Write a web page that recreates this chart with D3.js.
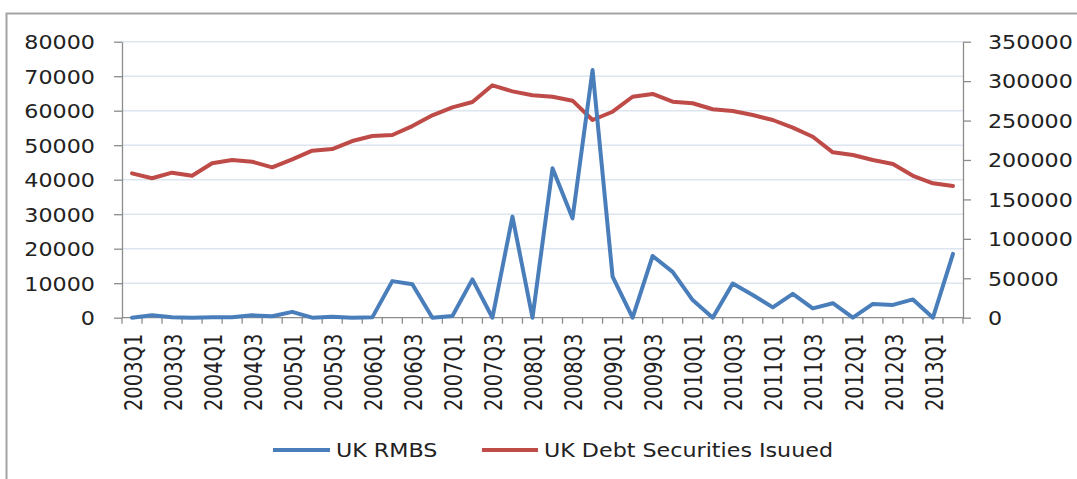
<!DOCTYPE html>
<html>
<head>
<meta charset="utf-8">
<script src="https://cdn.jsdelivr.net/npm/d3@7"></script>
<style>
  html, body { margin: 0; padding: 0; background: #fff; }
  svg { display: block; }
  text { font-family: "DejaVu Sans", Verdana, sans-serif; fill: #222; }
</style>
</head>
<body>
<svg id="chart" width="1077" height="479"></svg>
<script>
// Quarterly categories
const quarters = [
  "2003Q1","2003Q2","2003Q3","2003Q4","2004Q1","2004Q2","2004Q3","2004Q4",
  "2005Q1","2005Q2","2005Q3","2005Q4","2006Q1","2006Q2","2006Q3","2006Q4",
  "2007Q1","2007Q2","2007Q3","2007Q4","2008Q1","2008Q2","2008Q3","2008Q4",
  "2009Q1","2009Q2","2009Q3","2009Q4","2010Q1","2010Q2","2010Q3","2010Q4",
  "2011Q1","2011Q2","2011Q3","2011Q4","2012Q1","2012Q2","2012Q3","2012Q4",
  "2013Q1","2013Q2"
];

// UK RMBS issuance (left axis)
const rmbs = [
  0, 700, 100, 0, 100, 100, 700, 400,
  1700, 0, 300, 0, 100, 10600, 9700, 0,
  500, 11100, 0, 29300, 0, 43300, 28800, 71800,
  11900, 0, 17900, 13300, 5100, 0, 9900, 6600,
  3000, 6900, 2700, 4200, 0, 4000, 3700, 5300,
  0, 18500
];

// UK debt securities issued (right axis)
const debt = [
  183000, 176800, 183900, 180000, 195800, 200000, 197800, 190700,
  200800, 211800, 213900, 224000, 230400, 231700, 243000, 256600,
  266800, 273500, 294700, 287000, 282000, 280200, 275200, 250700,
  261200, 280200, 283700, 273900, 271900, 264300, 262100, 257000,
  250700, 241000, 229500, 209700, 206300, 200000, 194900, 180000,
  170400, 167000
];

const leftTicks = [0, 10000, 20000, 30000, 40000, 50000, 60000, 70000, 80000];
const rightTicks = [0, 50000, 100000, 150000, 200000, 250000, 300000, 350000];

const seriesNames = ["UK RMBS", "UK Debt Securities Isuued"];
const seriesColors = ["#4a7ebb", "#be4b48"];

// Text in this chart is set wide
const SX = 1.17;
const SX_ROT = 1.3;
const FONT = 19;

const svg = d3.select("#chart");
const W = 1077, H = 479;
const plot = { left: 122, right: 963, top: 41.7, bottom: 317.7 };

svg.append("rect").attr("width", W).attr("height", H).attr("fill", "#fff");

// Outer chart-area frame (only top and left edges fall inside the view)
svg.append("path")
  .attr("d", `M6.5,${H + 2} L6.5,13.5 L${W + 2},13.5`)
  .attr("fill", "none")
  .attr("stroke", "#a3a3a3")
  .attr("stroke-width", 2);

const x = d3.scaleBand().domain(quarters).range([plot.left, plot.right]).padding(0);
const yL = d3.scaleLinear().domain([0, 80000]).range([plot.bottom, plot.top]);
const yR = d3.scaleLinear().domain([0, 350000]).range([plot.bottom, plot.top]);

// Horizontal gridlines
svg.append("g").selectAll("line")
  .data(leftTicks.filter(d => d > 0))
  .join("line")
  .attr("x1", plot.left).attr("x2", plot.right)
  .attr("y1", d => yL(d)).attr("y2", d => yL(d))
  .attr("stroke", "#dce5f0")
  .attr("stroke-width", 1.5);

// Left axis
const gL = svg.append("g")
  .attr("transform", `translate(${plot.left},0)`)
  .call(d3.axisLeft(yL).tickValues(leftTicks).tickSize(8).tickSizeOuter(0).tickFormat(d3.format("d")));
gL.select(".domain").attr("stroke", "#8c8c8c").attr("stroke-width", 1.3);
gL.selectAll(".tick line").attr("stroke", "#8c8c8c").attr("stroke-width", 1.3);
gL.selectAll(".tick text")
  .attr("font-size", FONT)
  .attr("font-family", "DejaVu Sans")
  .attr("fill", "#222")
  .attr("x", -27 / SX)
  .attr("dy", "0.36em")
  .attr("transform", `scale(${SX},1)`);

// Right axis
const gR = svg.append("g")
  .attr("transform", `translate(${plot.right},0)`)
  .call(d3.axisRight(yR).tickValues(rightTicks).tickSize(8).tickSizeOuter(0).tickFormat(d3.format("d")));
gR.select(".domain").attr("stroke", "#8c8c8c").attr("stroke-width", 1.3);
gR.selectAll(".tick line").attr("stroke", "#8c8c8c").attr("stroke-width", 1.3);
gR.selectAll(".tick text")
  .attr("font-size", FONT)
  .attr("font-family", "DejaVu Sans")
  .attr("fill", "#222")
  .attr("x", 25 / SX)
  .attr("dy", "0.36em")
  .attr("transform", `scale(${SX},1)`);

// Category axis: baseline, boundary ticks, rotated labels on every other quarter
const gX = svg.append("g");
gX.append("line")
  .attr("x1", plot.left).attr("x2", plot.right)
  .attr("y1", plot.bottom).attr("y2", plot.bottom)
  .attr("stroke", "#8c8c8c").attr("stroke-width", 1.3);
const boundaries = quarters.map(q => x(q)).concat([x.range()[1]]);
gX.selectAll("line.tk")
  .data(boundaries)
  .join("line")
  .attr("class", "tk")
  .attr("x1", d => d).attr("x2", d => d)
  .attr("y1", plot.bottom).attr("y2", plot.bottom + 6)
  .attr("stroke", "#8c8c8c").attr("stroke-width", 1.3);
gX.selectAll("text")
  .data(quarters.filter((q, i) => i % 2 === 0))
  .join("text")
  .attr("font-size", 19.5)
  .attr("text-anchor", "end")
  .attr("dy", "0.36em")
  .attr("transform", q => `translate(${x(q) + x.bandwidth() / 2 + 0.5},${plot.bottom + 16}) scale(${SX_ROT},1) rotate(-90)`)
  .text(q => q);

// Series lines
const lineL = d3.line().x((d, i) => x(quarters[i]) + x.bandwidth() / 2).y(d => yL(d));
const lineR = d3.line().x((d, i) => x(quarters[i]) + x.bandwidth() / 2).y(d => yR(d));

svg.append("path")
  .datum(debt)
  .attr("d", lineR)
  .attr("fill", "none")
  .attr("stroke", seriesColors[1])
  .attr("stroke-width", 4)
  .attr("stroke-linejoin", "round")
  .attr("stroke-linecap", "round");

svg.append("path")
  .datum(rmbs)
  .attr("d", lineL)
  .attr("fill", "none")
  .attr("stroke", seriesColors[0])
  .attr("stroke-width", 4)
  .attr("stroke-linejoin", "round")
  .attr("stroke-linecap", "round");

// Legend
const legendItems = [
  { name: seriesNames[0], color: seriesColors[0], x0: 273, x1: 330, tx: 336 },
  { name: seriesNames[1], color: seriesColors[1], x0: 482, x1: 538, tx: 544 }
];
const gLeg = svg.append("g");
legendItems.forEach(it => {
  gLeg.append("line")
    .attr("x1", it.x0).attr("x2", it.x1)
    .attr("y1", 450).attr("y2", 450)
    .attr("stroke", it.color).attr("stroke-width", 4);
  gLeg.append("text")
    .attr("font-size", FONT)
    .attr("transform", `translate(${it.tx},457) scale(${SX},1)`)
    .text(it.name);
});
</script>
</body>
</html>
